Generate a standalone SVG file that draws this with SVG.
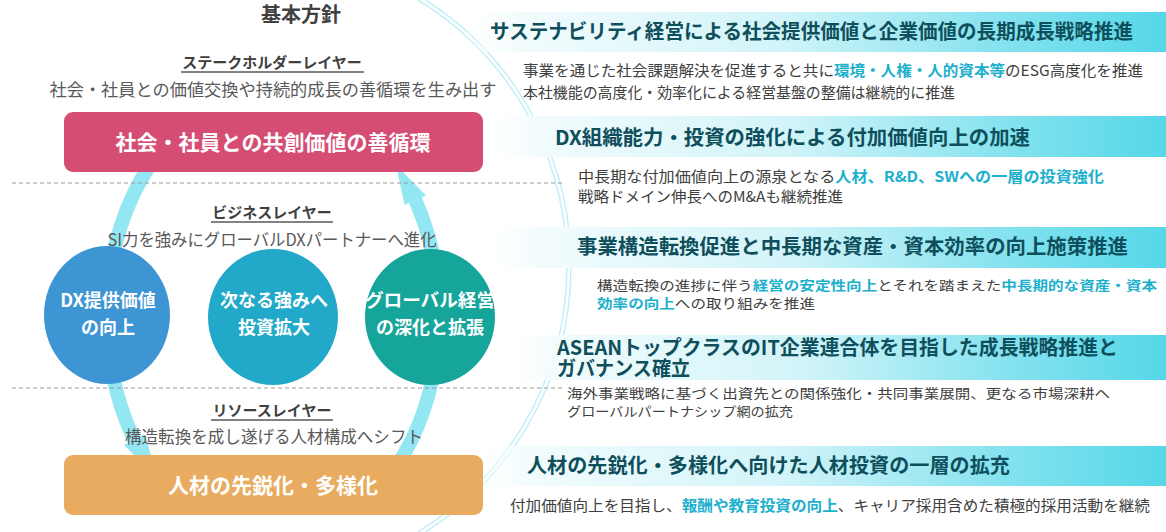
<svg xmlns="http://www.w3.org/2000/svg" width="1166" height="532" viewBox="0 0 1166 532">
<defs>
<linearGradient id="band" x1="0" y1="0" x2="1" y2="0">
<stop offset="0" stop-color="#ffffff" stop-opacity="0"/>
<stop offset="0.08" stop-color="#f3fcfd"/>
<stop offset="0.45" stop-color="#d2f4f9"/>
<stop offset="0.75" stop-color="#88e3ef"/>
<stop offset="1" stop-color="#55d7e8"/>
</linearGradient>
<style>
.t{font-family:"Noto Sans CJK JP","Noto Sans",sans-serif;}
.h{font-size:20px;font-weight:700;fill:#0f4f5c;}
.b{font-size:15px;fill:#404040;}
.bs{font-size:13px;fill:#404040;}
.hl{fill:#1cb0cd;font-weight:700;}
.lay{font-size:15px;font-weight:700;fill:#404040;text-anchor:middle;}
.sub{font-size:17px;fill:#595959;text-anchor:middle;}
.bx{font-size:21px;font-weight:700;fill:#ffffff;text-anchor:middle;}
.ct{font-size:18px;font-weight:700;fill:#ffffff;text-anchor:middle;}
.ul{stroke:#595959;stroke-width:1.3;}
.dash{stroke:#9a9a9a;stroke-width:1.2;stroke-dasharray:4 3;fill:none;}
.ring{stroke:#93e7f2;stroke-width:14;fill:none;}
.thin{stroke:#c3eff6;stroke-width:1.5;fill:none;}
</style>
</defs>
<rect width="1166" height="532" fill="#ffffff"/>

<g id="background-arcs">
<path class="thin" d="M418 0 A312 312 0 0 1 418 532"/>
<path class="thin" d="M425.6 0 A316 316 0 0 1 425.6 532"/>
</g>

<g id="banners">
<rect x="460" y="12" width="706" height="40" fill="url(#band)"/>
<rect x="480" y="116" width="686" height="41" fill="url(#band)"/>
<rect x="480" y="227" width="686" height="41" fill="url(#band)"/>
<rect x="500" y="335" width="666" height="45" fill="url(#band)"/>
<rect x="470" y="446" width="696" height="40" fill="url(#band)"/>
</g>

<g id="connectors">
<path class="ring" d="M394.1 470 A166 225 0 0 0 415.3 200.1"/>
<polygon points="426,195.5 404.5,205 396,165" fill="#93e7f2"/>
<path class="ring" d="M150 165 A166 225 0 0 0 134.4 440"/>
<polygon points="145,435 123.8,445 157.8,478" fill="#93e7f2"/>
</g>

<g id="dividers">
<line class="dash" x1="12" y1="183" x2="565" y2="183"/>
<line class="dash" x1="12" y1="388" x2="565" y2="388"/>
</g>

<g id="title">
<text class="t" x="301" y="22" font-size="20" font-weight="700" fill="#404040" text-anchor="middle">基本方針</text>
</g>

<g id="stakeholder-layer">
<text class="t lay" x="272" y="68">ステークホルダーレイヤー</text>
<line class="ul" x1="181" y1="72" x2="364" y2="72"/>
<text class="t sub" x="273" y="96" textLength="447" lengthAdjust="spacingAndGlyphs">社会・社員との価値交換や持続的成長の善循環を生み出す</text>
</g>

<g id="node-society">
<rect x="64" y="112" width="419" height="60" rx="9" fill="#d64d74"/>
<text class="t bx" x="273" y="150">社会・社員との共創価値の善循環</text>
</g>

<g id="business-layer">
<text class="t lay" x="272" y="218">ビジネスレイヤー</text>
<line class="ul" x1="211" y1="222" x2="333" y2="222"/>
<text class="t sub" x="272" y="246" textLength="329" lengthAdjust="spacingAndGlyphs">SI力を強みにグローバルDXパートナーへ進化</text>
</g>

<g id="node-dx">
<ellipse cx="107" cy="315" rx="63" ry="69" fill="#3d95d3"/>
<text class="t ct" x="108" y="307">DX提供価値</text>
<text class="t ct" x="108" y="334">の向上</text>
</g>

<g id="node-invest">
<ellipse cx="273" cy="317" rx="65" ry="68" fill="#22a9c9"/>
<text class="t ct" x="274" y="307">次なる強みへ</text>
<text class="t ct" x="274" y="334">投資拡大</text>
</g>

<g id="node-global">
<ellipse cx="430" cy="317" rx="65" ry="68" fill="#16a59b"/>
<text class="t ct" x="430" y="307" textLength="130" lengthAdjust="spacingAndGlyphs">グローバル経営</text>
<text class="t ct" x="430" y="334">の深化と拡張</text>
</g>

<g id="resource-layer">
<text class="t lay" x="272" y="416">リソースレイヤー</text>
<line class="ul" x1="211" y1="420" x2="333" y2="420"/>
<text class="t sub" x="274" y="443" textLength="298" lengthAdjust="spacingAndGlyphs">構造転換を成し遂げる人材構成へシフト</text>
</g>

<g id="node-talent">
<rect x="64" y="455" width="419" height="60" rx="9" fill="#e8ab5f"/>
<text class="t bx" x="273" y="493">人材の先鋭化・多様化</text>
</g>

<g id="strategy-1">
<text class="t h" x="490" y="39" textLength="643" lengthAdjust="spacingAndGlyphs">サステナビリティ経営による社会提供価値と企業価値の長期成長戦略推進</text>
<text class="t b" x="523" y="76" textLength="620" lengthAdjust="spacingAndGlyphs">事業を通じた社会課題解決を促進すると共に<tspan class="hl">環境・人権・人的資本等</tspan>のESG高度化を推進</text>
<text class="t b" x="523" y="98" textLength="432" lengthAdjust="spacingAndGlyphs">本社機能の高度化・効率化による経営基盤の整備は継続的に推進</text>
</g>

<g id="strategy-2">
<text class="t h" x="555" y="145" textLength="475" lengthAdjust="spacingAndGlyphs">DX組織能力・投資の強化による付加価値向上の加速</text>
<text class="t b" x="578" y="182" textLength="526" lengthAdjust="spacingAndGlyphs">中長期な付加価値向上の源泉となる<tspan class="hl">人材、R&amp;D、SWへの一層の投資強化</tspan></text>
<text class="t b" x="578" y="202" textLength="265" lengthAdjust="spacingAndGlyphs">戦略ドメイン伸長へのM&amp;Aも継続推進</text>
</g>

<g id="strategy-3">
<text class="t h" x="577" y="254" textLength="551" lengthAdjust="spacingAndGlyphs">事業構造転換促進と中長期な資産・資本効率の向上施策推進</text>
<text class="t bs" x="597" y="290" textLength="560" lengthAdjust="spacingAndGlyphs">構造転換の進捗に伴う<tspan class="hl">経営の安定性向上</tspan>とそれを踏まえた<tspan class="hl">中長期的な資産・資本</tspan></text>
<text class="t bs" x="597" y="308" textLength="218" lengthAdjust="spacingAndGlyphs"><tspan class="hl">効率の向上</tspan>への取り組みを推進</text>
</g>

<g id="strategy-4">
<text class="t h" font-size="18"><tspan x="557" y="355" textLength="561" lengthAdjust="spacingAndGlyphs">ASEANトップクラスのIT企業連合体を目指した成長戦略推進と</tspan><tspan x="557" y="376" textLength="133" lengthAdjust="spacingAndGlyphs">ガバナンス確立</tspan></text>
<text class="t bs" x="567" y="398" textLength="543" lengthAdjust="spacingAndGlyphs">海外事業戦略に基づく出資先との関係強化・共同事業展開、更なる市場深耕へ</text>
<text class="t bs" x="567" y="416" textLength="226" lengthAdjust="spacingAndGlyphs">グローバルパートナシップ網の拡充</text>
</g>

<g id="strategy-5">
<text class="t h" x="527" y="473" textLength="483" lengthAdjust="spacingAndGlyphs">人材の先鋭化・多様化へ向けた人材投資の一層の拡充</text>
<text class="t b" x="510" y="511" textLength="640" lengthAdjust="spacingAndGlyphs">付加価値向上を目指し、<tspan class="hl">報酬や教育投資の向上</tspan>、キャリア採用含めた積極的採用活動を継続</text>
</g>
</svg>
